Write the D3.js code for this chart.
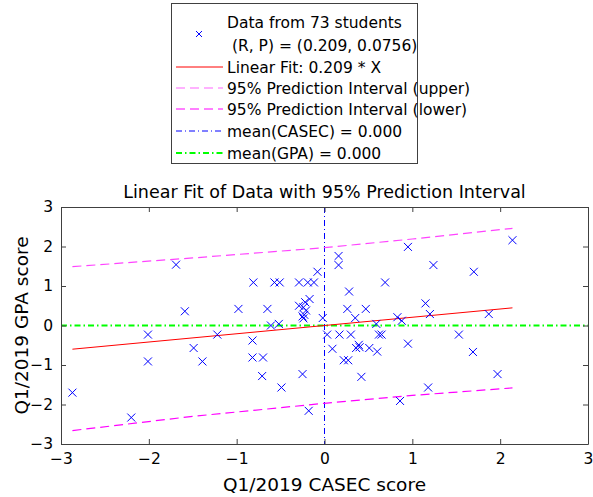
<!DOCTYPE html>
<html>
<head>
<meta charset="utf-8">
<script src="https://cdn.jsdelivr.net/npm/d3@7"></script>
<style>
  body { margin: 0; background: #fff; }
  text { font-family: "DejaVu Sans", sans-serif; fill: #000; }
</style>
</head>
<body>
<div id="viz"></div>
<script>
// scatter data (z-scores)
var casec = [-2.87, -2.20, -2.01, -2.01, -1.69, -1.59, -1.49, -1.39, -1.22, -0.98,
  -0.82, -0.82, -0.81, -0.71, -0.70, -0.65, -0.61, -0.57, -0.52, -0.51,
  -0.49, -0.29, -0.25, -0.19, -0.18, -0.12, -0.08, -0.17, -0.22, -0.29,
  -0.24, -0.21, -0.25, -0.24, -0.23, -0.02,
  0.03, 0.09, 0.16, 0.16, 0.17, 0.22, 0.27, 0.28, 0.26, 0.30,
  0.35, 0.36, 0.39, 0.40, 0.42, 0.47, 0.51, 0.59, 0.60, 0.62,
  0.65, 0.69, 0.83, 0.86, 0.88, 0.95, 0.95, 1.15, 1.18, 1.20,
  1.24, 1.53, 1.69, 1.70, 1.87, 1.97, 2.14];
var gpa = [-1.70, -2.33, -0.23, -0.91, 1.54, 0.36, -0.57, -0.91, -0.23, 0.42,
  -0.38, -0.81, 1.09, -1.28, -0.81, 0.42, 0.00, 1.09, 0.04, 1.09,
  -1.57, 1.09, -1.23, 1.09, -2.16, 1.09, 1.36, 0.67, 0.59, 0.50,
  0.46, 0.38, 0.23, 0.18, 0.27, 0.19,
  -0.23, -0.59, 1.76, 1.53, -0.23, -0.88, -0.88, 0.86, 0.42, -0.23,
  0.19, -0.57, -0.49, -0.55, -1.30, 0.42, -0.57, 0.04, -0.66, -0.23,
  -0.23, 1.09, 0.21, -1.91, 0.12, 1.99, -0.46, 0.56, -1.57, 0.29,
  1.53, -0.23, -0.67, 1.36, 0.29, -1.23, 2.16];

// fit and prediction interval
var fitX = [-2.87, 2.14];
var fitY = [-0.600, 0.447];
var piX = [-2.87, -1.5, 0, 1, 2.14];
var piUpper = [1.49, 1.71, 1.97, 2.19, 2.46];
var piLower = [-2.66, -2.30, -1.97, -1.77, -1.58];

var ticks = [-3, -2, -1, 0, 1, 2, 3];

var legendLabels = [
  ["Data from 73 students", " (R, P) = (0.209, 0.0756)"],
  ["Linear Fit: 0.209 * X"],
  ["95% Prediction Interval (upper)"],
  ["95% Prediction Interval (lower)"],
  ["mean(CASEC) = 0.000"],
  ["mean(GPA) = 0.000"]
];

var W = 593, H = 497;
var pLeft = 61, pRight = 588, pTop = 207, pBottom = 444;

var svg = d3.select("#viz").append("svg")
  .attr("width", W).attr("height", H);

var x = d3.scaleLinear().domain([-3, 3]).range([pLeft, pRight]);
var y = d3.scaleLinear().domain([-3, 3]).range([pBottom, pTop]);
var fmt = function(d) { return d < 0 ? "\u2212" + Math.abs(d) : "" + d; };

var line = d3.line().x(function(d) { return x(d[0]); }).y(function(d) { return y(d[1]); });

// mean lines
svg.append("line")
  .attr("x1", x(0)).attr("x2", x(0)).attr("y1", y(3)).attr("y2", y(-3))
  .attr("stroke", "#0000ff").attr("stroke-width", 1).attr("stroke-dasharray", "6,3,1,3");
svg.append("line")
  .attr("x1", x(-3)).attr("x2", x(3)).attr("y1", y(0)).attr("y2", y(0))
  .attr("stroke", "#00ff00").attr("stroke-width", 2).attr("stroke-dasharray", "6,3,1.5,3");

// prediction intervals
svg.append("path")
  .attr("d", line(d3.zip(piX, piUpper)))
  .attr("fill", "none").attr("stroke", "#ff44ff").attr("stroke-width", 1.2)
  .attr("stroke-dasharray", "9,5");
svg.append("path")
  .attr("d", line(d3.zip(piX, piLower)))
  .attr("fill", "none").attr("stroke", "#ff00ff").attr("stroke-width", 1.2)
  .attr("stroke-dasharray", "9,5");

// fit
svg.append("path")
  .attr("d", line(d3.zip(fitX, fitY)))
  .attr("fill", "none").attr("stroke", "#ff0000").attr("stroke-width", 1);

// data markers
function cross(g, cx, cy, r) {
  g.append("path")
    .attr("d", "M" + (cx - r) + "," + (cy - r) + "L" + (cx + r) + "," + (cy + r) +
      "M" + (cx - r) + "," + (cy + r) + "L" + (cx + r) + "," + (cy - r))
    .attr("stroke", "#0000ff").attr("stroke-width", 1).attr("fill", "none");
}
var pts = svg.append("g");
d3.zip(casec, gpa).forEach(function(d) { cross(pts, x(d[0]), y(d[1]), 4); });

// axes with inner ticks
var axisColor = "#404040";
function styleAxis(g) {
  g.selectAll("path, line").attr("stroke", axisColor);
  g.selectAll("text").style("font-size", "15.5px").style("font-family", "DejaVu Sans").attr("fill", "#000");
}
svg.append("g").attr("transform", "translate(0," + pBottom + ")")
  .call(d3.axisBottom(x).tickValues(ticks).tickFormat(fmt).tickSizeInner(-5).tickSizeOuter(0).tickPadding(9))
  .call(styleAxis);
svg.append("g").attr("transform", "translate(0," + pTop + ")")
  .call(d3.axisTop(x).tickValues(ticks).tickFormat("").tickSizeInner(-5).tickSizeOuter(0))
  .call(styleAxis);
svg.append("g").attr("transform", "translate(" + pLeft + ",0)")
  .call(d3.axisLeft(y).tickValues(ticks).tickFormat(fmt).tickSizeInner(-5).tickSizeOuter(0).tickPadding(8))
  .call(styleAxis);
svg.append("g").attr("transform", "translate(" + pRight + ",0)")
  .call(d3.axisRight(y).tickValues(ticks).tickFormat("").tickSizeInner(-5).tickSizeOuter(0))
  .call(styleAxis);

// labels
svg.append("text").attr("x", (pLeft + pRight) / 2).attr("y", 198)
  .attr("text-anchor", "middle").style("font-size", "17.5px")
  .text("Linear Fit of Data with 95% Prediction Interval");
svg.append("text").attr("x", (pLeft + pRight) / 2).attr("y", 491)
  .attr("text-anchor", "middle").style("font-size", "18.5px")
  .text("Q1/2019 CASEC score");
svg.append("text").attr("transform", "translate(28," + ((pTop + pBottom) / 2) + ") rotate(-90)")
  .attr("text-anchor", "middle").style("font-size", "18.5px")
  .text("Q1/2019 GPA score");

// legend
var lg = svg.append("g");
lg.append("rect").attr("x", 171.5).attr("y", 3.5).attr("width", 246).attr("height", 160)
  .attr("fill", "#fff").attr("stroke", axisColor).attr("stroke-width", 1);
var rows = [22, 45, 67, 88, 109, 131, 153];
var lx1 = 176, lx2 = 223, tx = 227;
// data entry
cross(lg, 199, 34, 3);
lg.append("text").attr("x", tx).attr("y", rows[0] + 6).style("font-size", "15.5px").text(legendLabels[0][0]);
lg.append("text").attr("x", tx).attr("y", rows[1] + 6).style("font-size", "15.5px").style("white-space", "pre").text(legendLabels[0][1]);
var styles = [
  {c: "#ff0000", w: 1, dash: null},
  {c: "#ff66ff", w: 1.2, dash: "9,5"},
  {c: "#ff00ff", w: 1.2, dash: "9,5"},
  {c: "#0000ff", w: 1, dash: "6,3,1,3"},
  {c: "#00ff00", w: 2, dash: "6,3,1.5,3"}
];
styles.forEach(function(s, i) {
  var yy = rows[i + 2];
  lg.append("line").attr("x1", lx1).attr("x2", lx2).attr("y1", yy).attr("y2", yy)
    .attr("stroke", s.c).attr("stroke-width", s.w).attr("stroke-dasharray", s.dash);
  lg.append("text").attr("x", tx).attr("y", yy + 6).style("font-size", "15.5px").text(legendLabels[i + 1][0]);
});
</script>
</body>
</html>
